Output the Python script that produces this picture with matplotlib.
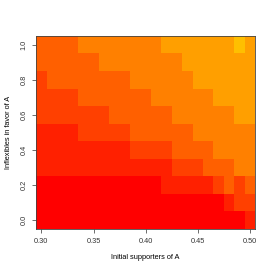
import numpy as np
import matplotlib
matplotlib.use("Agg")
import matplotlib.pyplot as plt
from matplotlib.colors import ListedColormap, BoundaryNorm

# grid: initial supporters of A (x) and inflexibles in favour of A (y)
supporters = [0.30, 0.31, 0.32, 0.33, 0.34, 0.35, 0.36, 0.37, 0.38, 0.39, 0.40,
              0.41, 0.42, 0.43, 0.44, 0.45, 0.46, 0.47, 0.48, 0.49, 0.50]
inflexibles = [0.0, 0.1, 0.2, 0.3, 0.4, 0.5, 0.6, 0.7, 0.8, 0.9, 1.0]

# colour level (index into heat palette) per cell, one row per inflexible value
row_00 = [0, 0, 0, 0, 0, 0, 0, 0, 0, 0, 0, 0, 0, 0, 0, 0, 0, 0, 0, 0, 1]
row_01 = [0, 0, 0, 0, 0, 0, 0, 0, 0, 0, 0, 0, 0, 0, 0, 0, 0, 0, 1, 2, 2]
row_02 = [0, 0, 0, 0, 0, 0, 0, 0, 0, 0, 0, 0, 1, 1, 1, 1, 1, 2, 3, 2, 3]
row_03 = [1, 1, 1, 1, 1, 1, 1, 1, 1, 1, 1, 1, 1, 2, 2, 2, 3, 3, 3, 4, 4]
row_04 = [1, 1, 1, 1, 1, 1, 1, 1, 1, 2, 2, 2, 2, 3, 3, 3, 3, 4, 4, 4, 4]
row_05 = [1, 1, 1, 1, 2, 2, 2, 2, 2, 3, 3, 3, 3, 3, 3, 4, 4, 4, 4, 4, 4]
row_06 = [2, 2, 2, 2, 2, 2, 2, 3, 3, 3, 3, 3, 3, 4, 4, 4, 4, 4, 4, 5, 5]
row_07 = [2, 2, 2, 2, 3, 3, 3, 3, 3, 3, 3, 4, 4, 4, 4, 4, 4, 5, 5, 5, 5]
row_08 = [2, 3, 3, 3, 3, 3, 3, 3, 3, 4, 4, 4, 4, 4, 4, 5, 5, 5, 5, 5, 5]
row_09 = [3, 3, 3, 3, 3, 3, 4, 4, 4, 4, 4, 4, 4, 4, 5, 5, 5, 5, 5, 5, 5]
row_10 = [3, 3, 3, 3, 4, 4, 4, 4, 4, 4, 4, 4, 5, 5, 5, 5, 5, 5, 5, 6, 5]

# R heat.colors(12)
heat = ["#FF0000", "#FF2000", "#FF4000", "#FF6000", "#FF8000", "#FF9F00",
        "#FFBF00", "#FFDF00", "#FFFF00", "#FFFF2A", "#FFFF80", "#FFFFD5"]

x_ticks = [0.30, 0.35, 0.40, 0.45, 0.50]
y_ticks = [0.0, 0.2, 0.4, 0.6, 0.8, 1.0]

z = np.array([row_00, row_01, row_02, row_03, row_04, row_05,
              row_06, row_07, row_08, row_09, row_10])

cmap = ListedColormap(heat)
norm = BoundaryNorm(np.arange(-0.5, len(heat) + 0.5), cmap.N)

plt.rcParams["font.family"] = ["Liberation Sans", "DejaVu Sans"]
fig = plt.figure(figsize=(2.74, 2.74), dpi=100)
ax = fig.add_axes([0.132, 0.165, 0.799, 0.704])
ax.pcolormesh(supporters, inflexibles, z, cmap=cmap, norm=norm, shading="nearest")
ax.set_xlim(0.295, 0.505)
ax.set_ylim(-0.05, 1.05)

ax.set_xticks(x_ticks)
ax.set_xticklabels([f"{v:.2f}" for v in x_ticks])
ax.set_yticks(y_ticks)
ax.set_yticklabels([f"{v:.1f}" for v in y_ticks], rotation=90, va="center")
ax.tick_params(direction="out", length=2.9, width=0.5, labelsize=5.3,
               colors="#333333")
ax.tick_params(axis="x", pad=4)
ax.tick_params(axis="y", pad=3.5)
for s in ax.spines.values():
    s.set_linewidth(0.6)
    s.set_color("#444444")

ax.set_xlabel("Initial supporters of A", fontsize=5.3, labelpad=6.3)
ax.set_ylabel("Inflexibles in favor of A", fontsize=5.3, labelpad=6.2)

fig.savefig("out.png", dpi=100)
